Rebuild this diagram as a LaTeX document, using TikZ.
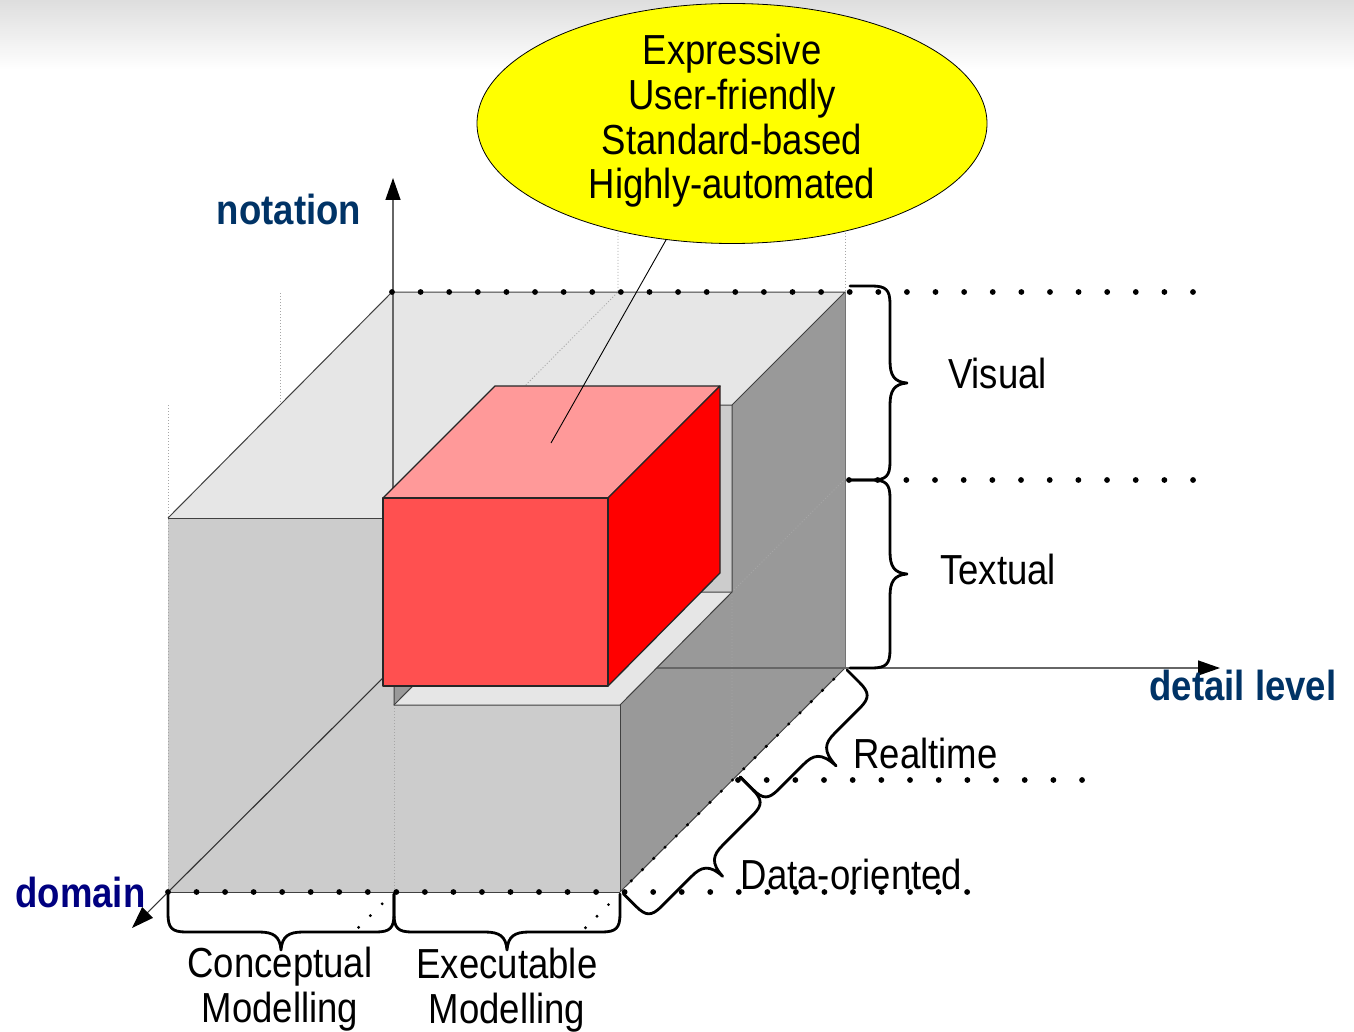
\documentclass[tikz,border=0pt]{standalone}
\usepackage{fontspec}
\setmainfont{Liberation Sans}[FakeStretch=0.87]
\usetikzlibrary{arrows.meta,shapes.geometric}
\definecolor{topgray}{HTML}{E6E6E6}
\definecolor{frontgray}{HTML}{CCCCCC}
\definecolor{sidegray}{HTML}{999999}
\definecolor{redtop}{HTML}{FF9999}
\definecolor{redfront}{HTML}{FF5050}
\definecolor{redside}{HTML}{FF0000}
\definecolor{axisblue}{HTML}{003366}
\definecolor{domblue}{HTML}{000080}
\definecolor{callout}{HTML}{FFFF00}
\newcommand\cbrace[6]{% #1 start, #2 u vector, #3 v vector, #4 length, #5 spine, #6 tip
  \begin{scope}[shift={#1}, x={#2}, y={#3}]
    \draw[bracestyle] (0,0) -- (0,#5-18) .. controls (0,#5-4) and (4,#5) .. (18,#5)
      -- (#4/2-22,#5) .. controls (#4/2-8,#5) and (#4/2-1,#5+4) .. (#4/2,#6)
      .. controls (#4/2+1,#5+4) and (#4/2+8,#5) .. (#4/2+22,#5) -- (#4-18,#5)
      .. controls (#4-4,#5) and (#4,#5-4) .. (#4,#5-18) -- (#4,0);
  \end{scope}}
\begin{document}
\begin{tikzpicture}[x=1pt,y=-1pt,
  edge/.style={draw=black!75,line width=1pt},
  guide/.style={draw=black!35,line width=0.8pt,dash pattern=on 1pt off 2pt},
  axisline/.style={draw=black!60,line width=1.4pt,-{Triangle[length=22pt,width=15pt,color=black]}},
  redge/.style={draw=black!85,line width=1.3pt,line join=round},
  bracestyle/.style={draw=black,line width=2.8pt,line join=round,line cap=round},
  lbl/.style={font=\fontsize{42pt}{44.7pt}\selectfont,inner sep=0pt,align=center},
  axlbl/.style={font=\fontsize{42pt}{44.7pt}\selectfont\bfseries,inner sep=0pt}]
\useasboundingbox (0,0) rectangle (1354,1032);
\fill[white] (0,0) rectangle (1354,1032);
\shade[top color=black!13,bottom color=white] (0,0) rectangle (1354,70);

% box faces
\fill[sidegray] (845,292) -- (845,668) -- (620,892) -- (620,705) -- (732,592) -- (732,405) -- cycle;
\fill[topgray] (392,292) -- (845,292) -- (732,405) -- (506,405) -- (394,518) -- (168,518) -- cycle;
\fill[frontgray] (168,518) -- (394,518) -- (394,705) -- (620,705) -- (620,892) -- (168,892) -- cycle;

% hidden / guide lines
\draw[guide] (168,405) -- (168,892);
\draw[guide] (280,293) -- (280,405);
\draw[guide] (618,230) -- (618,292) -- (506,405);
\draw[guide] (845,230) -- (845,292);
\draw[guide] (845,479) -- (732,592) -- (732,780);
\draw[guide] (394,705) -- (394,892);

% box edges
\draw[edge] (168,518) -- (392,292) -- (845,292) -- (732,405);
\draw[edge] (168,518) -- (394,518);
\draw[edge,draw=black!55] (845,292) -- (845,668);
\draw[edge] (845,668) -- (620,892);
\draw[edge] (620,705) -- (620,892);
\draw[edge] (168,892) -- (620,892);

% axes
\coordinate (O) at (393,668);
\coordinate (ntip) at (393,178);
\coordinate (dtip) at (1220,668);
\coordinate (mtip) at (132,928);
\draw[axisline] (O) -- (ntip);
\draw[axisline] (O) -- (dtip);
\draw[axisline,draw=black!80,line width=1.1pt] (O) -- (mtip);

% notch
\fill[sidegray] (506,405) -- (394,518) -- (394,705) -- (506,592) -- cycle;
\fill[frontgray] (506,405) -- (732,405) -- (732,592) -- (506,592) -- cycle;
\fill[topgray] (394,705) -- (620,705) -- (732,592) -- (506,592) -- cycle;
\draw[edge] (394,518) -- (394,705) -- (620,705) -- (732,592) -- (732,405) -- (506,405);
\draw[edge] (394,705) -- (506,592) -- (732,592);

% red cube
\filldraw[redge,fill=redtop] (383,498) -- (495,386) -- (720,386) -- (608,498) -- cycle;
\filldraw[redge,fill=redside] (608,498) -- (720,386) -- (720,573) -- (608,686) -- cycle;
\filldraw[redge,fill=redfront] (383,498) -- (608,498) -- (608,686) -- (383,686) -- cycle;

% dotted rows
\foreach \i in {0,...,28} \fill (392+\i*28.607,292) circle (2.9pt);
\foreach \i in {0,...,12} \fill (849+\i*28.67,480) circle (2.9pt);
\foreach \i in {0,...,12} \fill (738+\i*28.67,780) circle (2.9pt);
\foreach \i in {0,...,28} \fill (168+\i*28.54,892) circle (2.9pt);
\foreach \i in {1,...,19} \fill (845-\i*11.25,668+\i*11.2) circle (1.7pt);
\foreach \i in {1,2,3} \fill (394-\i*11.8,892+\i*11.8) circle (1.6pt);
\foreach \i in {1,2,3} \fill (620-\i*11.5,893+\i*11.6) circle (1.6pt);

% braces
\cbrace{(850,286)}{(0pt,-1pt)}{(1pt,0pt)}{194}{40}{57}
\cbrace{(850,480)}{(0pt,-1pt)}{(1pt,0pt)}{188}{40}{57}
\cbrace{(847,670)}{(-0.7071pt,-0.7071pt)}{(0.7071pt,-0.7071pt)}{151}{36}{60}
\cbrace{(740,777)}{(-0.7071pt,-0.7071pt)}{(0.7071pt,-0.7071pt)}{165}{36}{58}
\cbrace{(168,894)}{(1pt,0pt)}{(0pt,-1pt)}{226}{38}{56}
\cbrace{(394,894)}{(1pt,0pt)}{(0pt,-1pt)}{226}{38}{56}

% labels
\node[lbl,anchor=base] (vis) at (997.5,388) {Visual};
\node[lbl,anchor=base] (txt) at (998,584) {Textual};
\node[lbl,anchor=base] (rt) at (925.5,768) {Realtime};
\node[lbl,anchor=base] (dor) at (851.5,889) {Data-oriented};
\node[lbl,anchor=base] (cm) at (280,1022) {Conceptual\\Modelling};
\node[lbl,anchor=base] (em) at (507,1023) {Executable\\Modelling};
\node[axlbl,text=axisblue,anchor=base] (nl) at (289,225) {notation};
\node[axlbl,text=axisblue,anchor=base] (dl) at (1243,700) {detail level};
\node[axlbl,text=domblue,anchor=base] (ml) at (80.5,907) {domain};

% callout
\node[ellipse,draw=black,line width=0.8pt,fill=callout,minimum width=510pt,minimum height=240pt,inner sep=0pt] (ell) at (732,123.5) {};
\node[lbl,anchor=base] (elltext) at (732,199) {Expressive\\User-friendly\\Standard-based\\Highly-automated};
\coordinate (ptr) at (551,443);
\draw[line width=0.9pt] (ell) -- (ptr);
\end{tikzpicture}
\end{document}
